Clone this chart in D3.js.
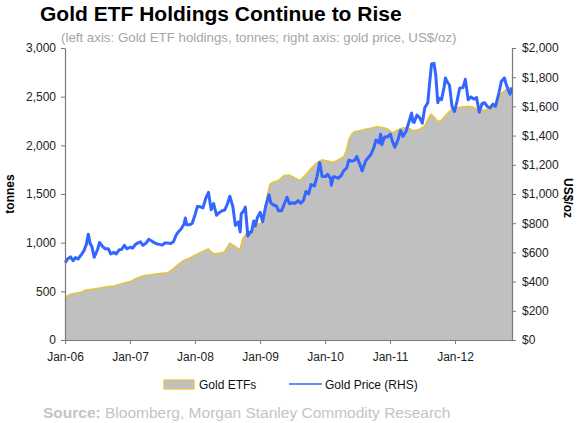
<!DOCTYPE html>
<html><head><meta charset="utf-8">
<script src="https://cdn.jsdelivr.net/npm/d3@7"></script>
<style>
html,body{margin:0;padding:0;background:#fff;}
svg{display:block;font-family:"Liberation Sans",Arial,sans-serif;}
</style></head>
<body><svg id="chart" width="580" height="423"></svg>
<script>
// ---- Data ----
const priceDates = [
"2006-01-02","2006-01-16","2006-02-01","2006-02-15","2006-03-01","2006-03-15","2006-04-03","2006-04-17","2006-05-01","2006-05-12","2006-05-22","2006-06-01","2006-06-14","2006-07-03","2006-07-14","2006-08-01","2006-08-15","2006-09-01","2006-09-15","2006-10-02","2006-10-16","2006-11-01","2006-11-15","2006-12-01","2006-12-15",
"2007-01-02","2007-01-16","2007-02-01","2007-02-15","2007-03-01","2007-03-15","2007-04-02","2007-04-16","2007-05-01","2007-05-15","2007-06-01","2007-06-15","2007-07-02","2007-07-16","2007-08-01","2007-08-16","2007-09-03","2007-09-17","2007-10-01","2007-10-15","2007-11-01","2007-11-08","2007-11-15","2007-12-03","2007-12-17",
"2008-01-02","2008-01-15","2008-02-01","2008-02-15","2008-03-03","2008-03-17","2008-04-01","2008-04-15","2008-05-01","2008-05-15","2008-06-02","2008-06-16","2008-07-01","2008-07-15","2008-08-01","2008-08-15","2008-09-02","2008-09-11","2008-09-17","2008-10-01","2008-10-10","2008-10-24","2008-11-03","2008-11-14","2008-11-26","2008-12-05","2008-12-17",
"2009-01-02","2009-01-15","2009-02-02","2009-02-20","2009-03-02","2009-03-16","2009-04-01","2009-04-15","2009-05-01","2009-05-15","2009-06-01","2009-06-15","2009-07-01","2009-07-15","2009-08-03","2009-08-17","2009-09-01","2009-09-16","2009-10-01","2009-10-14","2009-11-02","2009-11-16","2009-12-02","2009-12-15",
"2010-01-04","2010-01-15","2010-02-01","2010-02-05","2010-02-16","2010-03-01","2010-03-15","2010-04-01","2010-04-15","2010-05-03","2010-05-14","2010-06-01","2010-06-15","2010-06-28","2010-07-15","2010-07-28","2010-08-16","2010-09-01","2010-09-15","2010-10-01","2010-10-14","2010-11-01","2010-11-09","2010-11-16","2010-12-01","2010-12-15",
"2011-01-03","2011-01-14","2011-01-28","2011-02-15","2011-03-01","2011-03-15","2011-04-01","2011-04-15","2011-05-02","2011-05-09","2011-05-16","2011-06-01","2011-06-15","2011-07-01","2011-07-15","2011-08-01","2011-08-10","2011-08-22","2011-09-05","2011-09-15","2011-09-26","2011-10-03","2011-10-17","2011-11-01","2011-11-08","2011-11-15","2011-12-01","2011-12-15","2011-12-29",
"2012-01-13","2012-01-27","2012-02-15","2012-02-28","2012-03-15","2012-03-30","2012-04-16","2012-05-01","2012-05-16","2012-06-01","2012-06-15","2012-07-02","2012-07-16","2012-08-01","2012-08-15","2012-09-04","2012-09-17","2012-10-04","2012-10-15","2012-10-26","2012-11-05","2012-11-16"
];
const priceValues = [
530,556,569,543,565,555,585,610,655,725,660,640,567,620,668,640,625,625,590,600,590,618,620,648,625,
635,630,655,665,672,648,664,690,680,668,658,655,650,665,665,660,675,718,742,760,795,835,790,790,800,
860,915,912,905,975,1011,892,935,855,872,885,890,930,985,913,785,810,740,865,885,910,712,735,740,815,780,840,
875,810,920,995,940,925,920,885,885,925,978,933,940,935,955,937,955,1017,1000,1065,1055,1118,1215,1122,
1120,1135,1105,1060,1118,1116,1108,1125,1158,1180,1231,1225,1230,1256,1205,1158,1225,1250,1270,1315,1370,1350,1410,1338,1390,1390,
1410,1360,1320,1372,1435,1395,1430,1485,1555,1495,1490,1540,1525,1485,1590,1625,1745,1890,1895,1810,1625,1655,1645,1735,1795,1775,1745,1600,1565,
1640,1725,1730,1785,1645,1665,1650,1660,1560,1620,1625,1597,1590,1615,1600,1695,1770,1795,1750,1712,1683,1730
];
const etfDates = [
"2006-01-02","2006-01-15","2006-02-01","2006-03-01","2006-04-01","2006-05-01","2006-06-01","2006-07-01","2006-08-01","2006-09-01","2006-10-01","2006-11-01","2006-12-01",
"2007-01-01","2007-02-01","2007-03-01","2007-04-01","2007-05-01","2007-06-01","2007-07-01","2007-08-01","2007-09-01","2007-10-01","2007-11-01","2007-12-01",
"2008-01-01","2008-02-01","2008-03-15","2008-04-15","2008-05-15","2008-06-15","2008-07-15","2008-08-15","2008-09-10","2008-09-25","2008-10-15","2008-11-15","2008-12-15",
"2009-01-10","2009-01-25","2009-02-10","2009-02-25","2009-03-15","2009-04-15","2009-05-15","2009-06-15","2009-07-15","2009-08-15","2009-09-15","2009-10-15","2009-11-15","2009-12-15",
"2010-01-15","2010-02-15","2010-03-15","2010-04-15","2010-05-01","2010-05-15","2010-06-01","2010-06-15","2010-07-15","2010-08-15","2010-09-15","2010-10-15","2010-11-15","2010-12-15",
"2011-01-15","2011-02-15","2011-03-15","2011-04-15","2011-05-15","2011-06-15","2011-07-15","2011-08-05","2011-08-20","2011-09-10","2011-09-25","2011-10-15","2011-11-15","2011-12-15",
"2012-01-15","2012-02-15","2012-03-15","2012-04-15","2012-05-15","2012-06-15","2012-07-15","2012-08-15","2012-09-01","2012-09-15","2012-10-15","2012-11-01","2012-11-16"
];
const etfValues = [
395,455,470,480,490,515,520,530,540,548,555,570,585,
600,630,650,665,670,680,685,690,730,780,820,840,
870,900,935,885,890,905,995,960,925,1040,1090,1130,1190,
1200,1330,1480,1600,1620,1640,1690,1695,1665,1640,1700,1765,1820,1850,
1840,1825,1850,1880,1950,2060,2120,2140,2150,2165,2175,2190,2185,2170,
2130,2160,2180,2175,2150,2165,2200,2280,2320,2280,2245,2255,2320,2370,
2385,2395,2400,2390,2350,2365,2370,2400,2450,2530,2575,2590,2560
];
const xTickLabels = ["Jan-06","Jan-07","Jan-08","Jan-09","Jan-10","Jan-11","Jan-12"];
const leftTicks = [0,500,1000,1500,2000,2500,3000];
const rightTicks = [0,200,400,600,800,1000,1200,1400,1600,1800,2000];
const seriesNames = ["Gold ETFs","Gold Price (RHS)"];

// ---- Chart ----
const parse = d3.timeParse("%Y-%m-%d");
const svg = d3.select("#chart");
const L = 65, R = 512, T = 48, B = 340;
const axisColor = "#7a7a7a";

const x = d3.scaleTime().domain([parse("2006-01-01"), parse("2012-11-16")]).range([L, R]);
const yL = d3.scaleLinear().domain([0, 3000]).range([B, T]);
const yR = d3.scaleLinear().domain([0, 2000]).range([B, T]);

const etf = etfDates.map((d, i) => ({d: parse(d), v: etfValues[i]}));
const price = priceDates.map((d, i) => ({d: parse(d), v: priceValues[i]}));

// Title
svg.append("text").attr("x", 40).attr("y", 20.5)
  .attr("font-size", 21).attr("font-weight", "bold").attr("fill", "#000")
  .text("Gold ETF Holdings Continue to Rise");
svg.append("text").attr("x", 61).attr("y", 42)
  .attr("font-size", 13.3).attr("fill", "#a6a6a6")
  .text("(left axis: Gold ETF holdings, tonnes; right axis: gold price, US$/oz)");

// Area
const area = d3.area().x(d => x(d.d)).y0(B).y1(d => yL(d.v));
svg.append("path").datum(etf).attr("d", area).attr("fill", "#c0c0c0");
const etfLine = d3.line().x(d => x(d.d)).y(d => yL(d.v));
svg.append("path").datum(etf).attr("d", etfLine).attr("fill", "none")
  .attr("stroke", "#e6c440").attr("stroke-width", 1.6);

// Price line
const priceLine = d3.line().x(d => x(d.d)).y(d => yR(d.v));
svg.append("path").datum(price).attr("d", priceLine).attr("fill", "none")
  .attr("stroke", "#3366ff").attr("stroke-width", 3).attr("stroke-linejoin", "round");

// Axes
function styleAxis(g) {
  g.select(".domain").attr("stroke", axisColor).attr("stroke-width", 1.2);
  g.selectAll(".tick line").attr("stroke", axisColor);
  g.selectAll(".tick text").attr("fill", "#222").attr("font-size", 12)
    .attr("font-family", "'Liberation Sans',Arial,sans-serif");
}
const gL = svg.append("g").attr("transform", `translate(${L},0)`)
  .call(d3.axisLeft(yL).tickValues(leftTicks).tickSize(4).tickSizeOuter(0)
    .tickPadding(5).tickFormat(d3.format(",")));
styleAxis(gL);
const gR = svg.append("g").attr("transform", `translate(${R},0)`)
  .call(d3.axisRight(yR).tickValues(rightTicks).tickSize(4).tickSizeOuter(0)
    .tickPadding(6).tickFormat(d => "$" + d3.format(",")(d)));
styleAxis(gR);
const xTicks = xTickLabels.map((s, i) => parse((2006 + i) + "-01-01"));
const gX = svg.append("g").attr("transform", `translate(0,${B})`)
  .call(d3.axisBottom(x).tickValues(xTicks).tickSize(4).tickSizeOuter(0)
    .tickPadding(8).tickFormat((d, i) => xTickLabels[i]));
styleAxis(gX);
gX.selectAll(".tick text").attr("dy", "0.71em");

// Axis titles
svg.append("text").attr("transform", "translate(14,194) rotate(-90)")
  .attr("text-anchor", "middle").attr("font-size", 12).attr("font-weight", "bold")
  .attr("fill", "#000").text("tonnes");
svg.append("text").attr("transform", "translate(564,198) rotate(90)")
  .attr("text-anchor", "middle").attr("font-size", 12).attr("font-weight", "bold")
  .attr("fill", "#000").text("US$/oz");

// Legend
const lg = svg.append("g");
lg.append("rect").attr("x", 164).attr("y", 380).attr("width", 30).attr("height", 9)
  .attr("fill", "#c0c0c0").attr("stroke", "#e6c440").attr("stroke-width", 1.2);
lg.append("text").attr("x", 199).attr("y", 388.5).attr("font-size", 12).attr("fill", "#111").text(seriesNames[0]);
lg.append("line").attr("x1", 289).attr("x2", 322).attr("y1", 384).attr("y2", 384)
  .attr("stroke", "#3366ff").attr("stroke-width", 1.5);
lg.append("text").attr("x", 325).attr("y", 388.5).attr("font-size", 12).attr("fill", "#111").text(seriesNames[1]);

// Source
const src = svg.append("text").attr("x", 43).attr("y", 418).attr("font-size", 15.5).attr("fill", "#c4c4c4");
src.append("tspan").attr("font-weight", "bold").text("Source:");
src.append("tspan").text(" Bloomberg, Morgan Stanley Commodity Research");
</script>
</body></html>
